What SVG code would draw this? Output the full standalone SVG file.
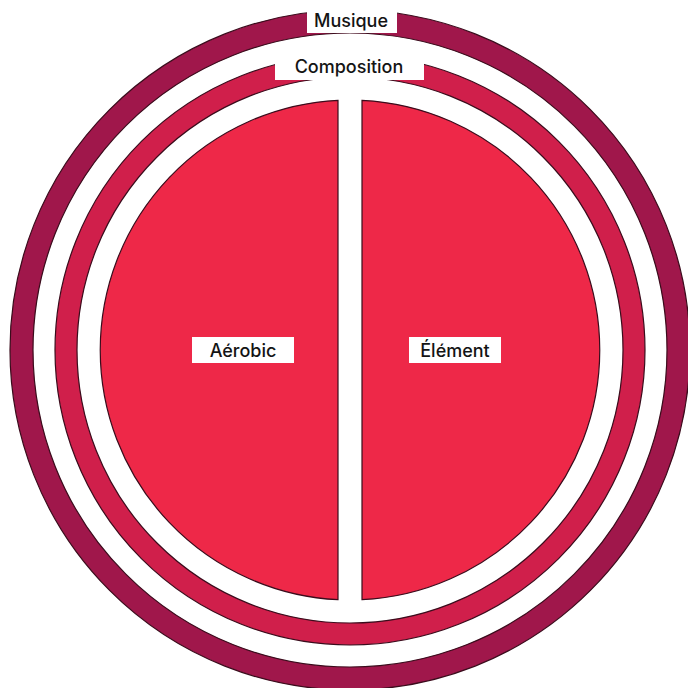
<svg xmlns="http://www.w3.org/2000/svg" width="688" height="688" viewBox="0 0 688 688">
  <style>
    .edge { stroke: #3a0c1c; stroke-width: 1.2; }
    .gap { fill: #ffffff; }
    .lbl { fill: #ffffff; }
    .txt { font-family: Inter, "Liberation Sans", sans-serif; font-size: 18px; font-weight: 500; fill: #141414; text-anchor: middle; dominant-baseline: central; }
  </style>
  <rect width="688" height="688" fill="#ffffff"/>
  <g id="node-musique">
    <circle cx="350" cy="350" r="340" fill="#a0174b" class="edge"/>
    <circle cx="350" cy="350" r="317" class="gap edge"/>
  </g>
  <g id="node-composition">
    <circle cx="350" cy="350" r="295" fill="#d01f4b" class="edge"/>
    <circle cx="350" cy="350" r="273" class="gap edge"/>
  </g>
  <g id="node-aerobic">
    <path d="M338,100.3 A250,250 0 0,0 338,599.7 Z" fill="#ee2848" class="edge"/>
  </g>
  <g id="node-element">
    <path d="M362,100.3 A250,250 0 0,1 362,599.7 Z" fill="#ee2848" class="edge"/>
  </g>
  <g id="labels">
    <rect x="307" y="7" width="90" height="26" class="lbl"/>
    <text x="351" y="20" class="txt">Musique</text>
    <rect x="275" y="54" width="149" height="26" class="lbl"/>
    <text x="349" y="66" class="txt">Composition</text>
    <rect x="192" y="337" width="102" height="26" class="lbl"/>
    <text x="243" y="350" class="txt">Aérobic</text>
    <rect x="409" y="337" width="92" height="26" class="lbl"/>
    <text x="455" y="350" class="txt">Élément</text>
  </g>
</svg>
